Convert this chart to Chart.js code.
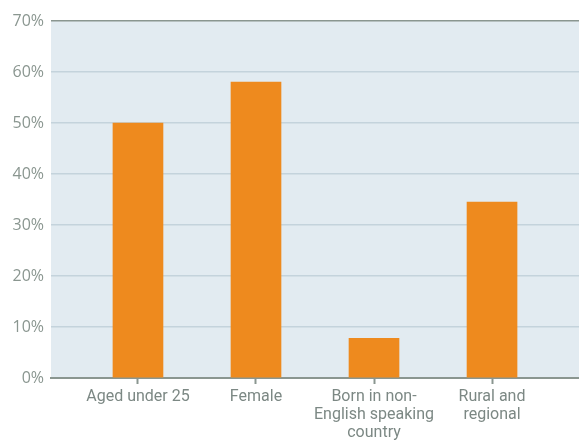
<!DOCTYPE html>
<html>
<head>
<meta charset="utf-8">
<script src="https://cdn.jsdelivr.net/npm/chart.js@4/dist/chart.umd.min.js"></script>
<style>
  html, body { margin: 0; padding: 0; background: #fff; }
  #wrap { width: 579px; height: 441px; }
</style>
</head>
<body>
<div id="wrap"><canvas id="myChart"></canvas></div>
<script>
// kategori dan nilai persentase
var categories = [
  ['Aged under 25'],
  ['Female'],
  ['Born in non-', 'English speaking', 'country'],
  ['Rural and', 'regional']
];
var values = [50, 58, 7.8, 34.5];
var yTicks = [0, 10, 20, 30, 40, 50, 60, 70];

var abu = '#8a9690';

// latar belakang area plot
var bgPlugin = {
  id: 'plotBg',
  beforeDraw: function(chart) {
    var a = chart.chartArea, ctx = chart.ctx;
    ctx.save();
    ctx.fillStyle = '#e2ebf1';
    ctx.fillRect(a.left, a.top, a.right - a.left, a.bottom - a.top);
    ctx.restore();
  }
};

var ctx = document.getElementById('myChart').getContext('2d');
var myChart = new Chart(ctx, {
  type: 'bar',
  data: {
    datasets: [{
      data: values.map(function(v, i) { return { x: i, y: v }; }),
      backgroundColor: '#ee8a1e',
      barThickness: 50
    }]
  },
  options: {
    responsive: true,
    maintainAspectRatio: false,
    animation: false,
    layout: { padding: { top: 21, right: 0, left: 0, bottom: 0 } },
    plugins: { legend: { display: false }, tooltip: { enabled: false } },
    scales: {
      x: {
        type: 'linear',
        offset: false,
        min: -0.737,
        max: 3.737,
        afterBuildTicks: function(scale) {
          scale.ticks = categories.map(function(c, i) { return { value: i }; });
        },
        afterFit: function(scale) { scale.height = 63; },
        border: { display: true, color: abu, width: 2 },
        grid: { offset: false, drawOnChartArea: false, drawTicks: true, tickLength: 6, tickColor: abu, tickWidth: 2, color: abu },
        ticks: {
          autoSkip: false,
          maxRotation: 0,
          padding: 4,
          color: '#7c8884',
          font: { family: 'Roboto', size: 16, lineHeight: 1.13 },
          callback: function(v) { return categories[v]; }
        }
      },
      y: {
        min: 0,
        max: 70,
        afterBuildTicks: function(scale) {
          scale.ticks = yTicks.map(function(v) { return { value: v }; });
        },
        afterFit: function(scale) { scale.width = 51; },
        border: { display: false },
        grid: {
          drawTicks: false,
          color: function(c) { return c.tick.value === 70 ? abu : '#c4d3dc'; },
          lineWidth: 1.5
        },
        ticks: {
          padding: 7,
          color: abu,
          font: { family: 'Open Sans', size: 16 },
          callback: function(v) { return v + '%'; }
        }
      }
    }
  },
  plugins: [bgPlugin]
});
</script>
</body>
</html>
